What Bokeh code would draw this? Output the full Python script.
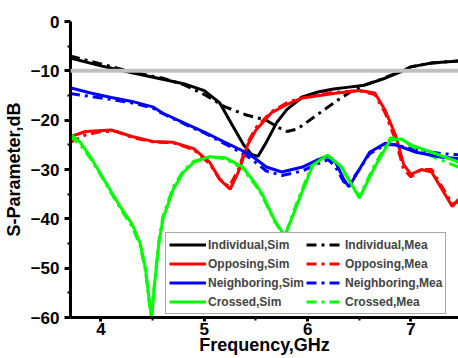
from bokeh.plotting import figure
from bokeh.models import Range1d, FixedTicker, Legend, LegendItem, Span
from bokeh.embed import file_html
from bokeh.resources import INLINE

# ---- data (frequency in GHz, S-parameter in dB) ----
ind_sim_f = [3.70, 4.0, 4.3, 4.55, 4.8, 5.0, 5.15, 5.27, 5.38, 5.46, 5.52, 5.6, 5.7, 5.8, 5.95, 6.1, 6.25, 6.4, 6.55, 6.75, 6.9, 7.0, 7.2, 7.46]
ind_sim_db = [-7.4, -9.0, -10.4, -11.5, -12.6, -14.0, -16.5, -21.0, -25.0, -27.0, -27.3, -24.5, -20.5, -17.8, -15.3, -14.3, -13.7, -13.3, -12.9, -11.5, -10.2, -9.2, -8.4, -8.0]

ind_mea_f = [3.70, 3.85, 4.0, 4.15, 4.3, 4.45, 4.6, 4.8, 5.0, 5.2, 5.4, 5.6, 5.72, 5.8, 5.9, 6.1, 6.3, 6.45, 6.55, 6.7, 6.9, 7.0, 7.2, 7.46]
ind_mea_db = [-7.0, -7.8, -8.6, -9.4, -10.2, -10.9, -11.5, -12.8, -14.8, -17.3, -18.9, -20.0, -21.5, -22.3, -21.8, -18.8, -15.8, -13.8, -12.9, -11.8, -10.1, -9.2, -8.4, -8.0]

opp_sim_f = [3.70, 3.85, 4.1, 4.3, 4.5, 4.7, 4.9, 5.05, 5.15, 5.25, 5.33, 5.42, 5.5, 5.65, 5.8, 5.95, 6.25, 6.5, 6.65, 6.75, 6.85, 6.93, 7.0, 7.1, 7.2, 7.3, 7.4, 7.46]
opp_sim_db = [-23.4, -22.3, -22.0, -23.3, -24.3, -24.5, -25.8, -28.5, -32.0, -34.0, -30.5, -25.0, -22.0, -18.5, -16.8, -15.5, -14.6, -14.0, -14.5, -18.0, -23.0, -29.0, -31.0, -30.0, -30.5, -34.0, -37.5, -36.0]

opp_mea_f = [3.70, 3.85, 4.0, 4.15, 4.3, 4.5, 4.7, 4.9, 5.05, 5.15, 5.24, 5.33, 5.42, 5.5, 5.65, 5.8, 5.95, 6.25, 6.5, 6.65, 6.75, 6.85, 6.93, 7.0, 7.1, 7.2, 7.3, 7.4, 7.46]
opp_mea_db = [-24.5, -23.0, -22.3, -22.3, -23.5, -24.4, -24.6, -26.0, -28.8, -32.0, -33.5, -30.0, -24.5, -21.5, -18.3, -16.5, -15.3, -14.4, -14.0, -14.8, -18.5, -24.0, -30.0, -31.5, -30.0, -30.0, -33.5, -37.0, -36.5]

nei_sim_f = [3.70, 3.9, 4.1, 4.3, 4.5, 4.6, 4.85, 5.0, 5.2, 5.35, 5.45, 5.6, 5.75, 5.95, 6.1, 6.2, 6.27, 6.35, 6.4, 6.5, 6.6, 6.75, 6.85, 7.05, 7.3, 7.46]
nei_sim_db = [-13.4, -14.5, -15.4, -16.2, -17.3, -18.6, -21.0, -22.4, -24.5, -26.0, -27.1, -29.5, -30.5, -29.5, -28.0, -27.3, -28.5, -32.0, -33.5, -30.0, -26.5, -24.7, -25.0, -26.5, -27.5, -27.8]

nei_mea_f = [3.70, 3.9, 4.1, 4.3, 4.5, 4.6, 4.85, 5.0, 5.2, 5.35, 5.45, 5.6, 5.75, 5.95, 6.1, 6.2, 6.27, 6.35, 6.4, 6.5, 6.6, 6.75, 6.85, 7.05, 7.3, 7.46]
nei_mea_db = [-14.6, -15.2, -15.8, -16.5, -17.5, -18.7, -21.2, -22.6, -24.8, -26.5, -27.8, -30.3, -31.2, -30.3, -28.8, -28.0, -29.5, -32.5, -33.0, -30.0, -26.8, -25.0, -25.0, -26.0, -26.8, -27.0]

cro_sim_f = [3.70, 3.8, 3.9, 4.0, 4.1, 4.2, 4.3, 4.38, 4.43, 4.47, 4.49, 4.52, 4.56, 4.6, 4.7, 4.8, 4.9, 5.05, 5.2, 5.37, 5.5, 5.56, 5.68, 5.78, 5.9, 6.05, 6.19, 6.33, 6.5, 6.65, 6.8, 6.9, 7.0, 7.2, 7.46]
cro_sim_db = [-22.8, -24.5, -27.5, -31.0, -34.5, -38.0, -41.0, -45.0, -50.0, -57.0, -60.0, -53.0, -45.0, -40.0, -34.0, -30.5, -28.5, -27.4, -27.6, -29.5, -33.0, -35.0, -40.3, -43.5, -37.0, -29.1, -27.1, -29.5, -35.8, -29.5, -24.0, -23.8, -25.0, -26.5, -28.5]

cro_mea_f = [3.70, 3.8, 3.9, 4.0, 4.1, 4.2, 4.3, 4.38, 4.43, 4.47, 4.49, 4.52, 4.56, 4.6, 4.7, 4.8, 4.9, 5.05, 5.2, 5.37, 5.5, 5.56, 5.68, 5.78, 5.9, 6.05, 6.19, 6.33, 6.5, 6.65, 6.8, 6.9, 7.0, 7.2, 7.46]
cro_mea_db = [-23.2, -25.0, -27.8, -31.2, -34.8, -38.3, -41.5, -45.5, -50.5, -57.5, -60.0, -52.5, -44.5, -39.5, -33.5, -30.2, -28.3, -27.5, -27.8, -29.8, -33.3, -35.3, -40.5, -43.5, -36.5, -28.8, -27.0, -29.8, -35.5, -29.0, -23.6, -23.6, -25.2, -27.3, -29.5]

names = ["Individual", "Opposing", "Neighboring", "Crossed"]
colors = ["black", "#ff0000", "#0000ff", "#00ff00"]
ref_level = -10
x_ticks = [4, 5, 6, 7]
y_ticks = [-60, -50, -40, -30, -20, -10, 0]

FONT = "Liberation Sans"

p = figure(width=458, height=358, output_backend="svg", toolbar_location=None,
           x_range=Range1d(3.705, 7.46), y_range=Range1d(-60, 0),
           min_border_left=67, min_border_right=0, min_border_top=21, min_border_bottom=41)
p.outline_line_color = None
p.grid.visible = False
p.background_fill_color = "white"
p.border_fill_color = "white"

# reference -10 dB line
p.add_layout(Span(location=ref_level, dimension="width", line_color="#c0c0c0", line_width=4))

sims = [(ind_sim_f, ind_sim_db), (opp_sim_f, opp_sim_db), (nei_sim_f, nei_sim_db), (cro_sim_f, cro_sim_db)]
meas = [(ind_mea_f, ind_mea_db), (opp_mea_f, opp_mea_db), (nei_mea_f, nei_mea_db), (cro_mea_f, cro_mea_db)]

sim_r, mea_r = [], []
for (f, d), c in zip(meas, colors):
    mea_r.append(p.line(f, d, line_color=c, line_width=3, line_dash="10 5 3 5"))
for (f, d), c in zip(sims, colors):
    sim_r.append(p.line(f, d, line_color=c, line_width=3))

items = [LegendItem(label=f"{n},Sim", renderers=[r]) for n, r in zip(names, sim_r)] + \
        [LegendItem(label=f"{n},Mea", renderers=[r]) for n, r in zip(names, mea_r)]
legend = Legend(items=items, nrows=4, location=(95, 3),
                label_text_font=FONT, label_text_font_style="bold", label_text_font_size="12px",
                glyph_width=37, glyph_height=17, label_height=17, label_standoff=2,
                spacing=2, padding=3, margin=0,
                border_line_color="#555555", border_line_width=1,
                background_fill_color="white", background_fill_alpha=1)
p.add_layout(legend, "center")

# axes
for ax in (p.xaxis[0], p.yaxis[0]):
    ax.axis_line_width = 3
    ax.axis_line_color = "black"
    ax.major_tick_line_width = 3
    ax.minor_tick_line_width = 2
    ax.major_tick_in = 0
    ax.minor_tick_in = 0
    ax.major_label_text_font = FONT
    ax.major_label_text_font_style = "bold"
    ax.major_label_text_font_size = "17px"
    ax.major_label_text_color = "black"
    ax.axis_label_text_font = FONT
    ax.axis_label_text_font_style = "bold"
    ax.axis_label_text_font_size = "18px"
    ax.axis_label_text_color = "black"

p.xaxis.ticker = FixedTicker(ticks=x_ticks, minor_ticks=[4.5, 5.5, 6.5, 7.5])
p.yaxis.ticker = FixedTicker(ticks=y_ticks, minor_ticks=[-55, -45, -35, -25, -15, -5])
p.xaxis.major_tick_out = 4
p.xaxis.minor_tick_out = 3
p.xaxis.major_label_standoff = 1
p.xaxis.axis_label_standoff = -3
p.yaxis.major_tick_out = 6
p.yaxis.minor_tick_out = 3
p.yaxis.major_label_standoff = 5
p.yaxis.axis_label_standoff = 4
p.xaxis.axis_label = "Frequency,GHz"
p.yaxis.axis_label = "S-Parameter,dB"

open("out.html", "w").write(file_html(p, INLINE))
